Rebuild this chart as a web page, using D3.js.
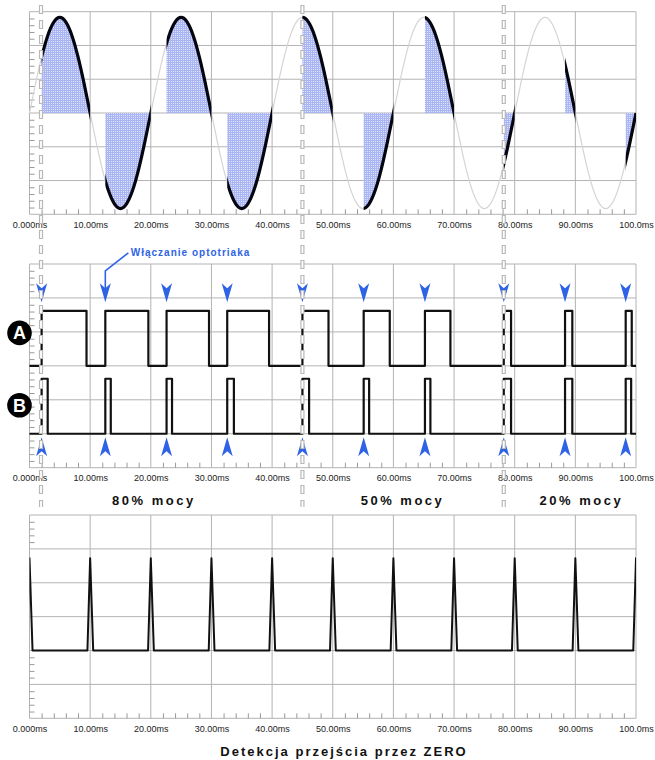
<!DOCTYPE html>
<html>
<head>
	<meta charset="utf-8">
	<title>Sterowanie fazowe triaka</title>
	<script type="text/javascript" src="https://cdnjs.cloudflare.com/ajax/libs/d3/7.8.5/d3.min.js"></script>
	<style>
		body { margin: 0; background: #fff; }
		text { font-family: "Liberation Sans", Arial, sans-serif; }
	</style>
</head>
<body>
	<svg id="chart" width="655" height="760"></svg>
	<script type="text/javascript">
		// data (time in ms, levels in grid units)
		var xTicks = [0, 10, 20, 30, 40, 50, 60, 70, 80, 90, 100];
		var xTickLabels = ["0.000ms", "10.00ms", "20.00ms", "30.00ms", "40.00ms", "50.00ms",
			"60.00ms", "70.00ms", "80.00ms", "90.00ms", "100.0ms"];

		// one half period of the mains voltage, sampled every 1 ms
		var halfWave = [0, 0.87, 1.66, 2.29, 2.69, 2.83, 2.69, 2.29, 1.66, 0.87, 0];

		// triac firing moments (ms)
		var triggers = [2.0, 12.5, 22.6, 32.6, 45.0, 55.1, 65.2, 78.2, 88.3, 98.3];
		// end of signal A pulses
		var aOff = [9.4, 19.6, 29.6, 39.5, 49.3, 59.4, 69.4, 79.4, 89.5, 99.3];
		// end of signal B pulses
		var bOff = [3.0, 13.4, 23.5, 33.7, 46.1, 56.0, 66.1, 79.4, 89.5, 99.2];
		var aLevels = [3, 4.62];
		var bLevels = [1, 2.62];

		// zero crossing detector
		var zeroCrossings = [0, 10, 20, 30, 40, 50, 60, 70, 80, 90, 100];
		var spikeLevels = [2, 4.72];

		// power change moments (dashed lines) and section captions
		var markerTimes = [1.9, 45.0, 78.2];
		var powerLabels = ["80% mocy", "50% mocy", "20% mocy"];
		var powerLabelTimes = [20.5, 61.5, 91];

		var svg = d3.select("#chart");
		var blue = "#2f63e6";
		var gridColor = "#b3b3b3";

		var x = d3.scaleLinear().domain([0, 100]).range([29.5, 636]);

		var panels = [
			{ y: d3.scaleLinear().domain([-3, 3]).range([214.3, 11.7]), noTicks: null },
			{ y: d3.scaleLinear().domain([0, 6]).range([467.7, 264]), noTicks: null },
			{ y: d3.scaleLinear().domain([0, 6]).range([718.3, 515]), noTicks: [2, 5] }
		];

		svg.append("rect").attr("width", 655).attr("height", 760).attr("fill", "#fff");

		// hatch pattern used under the conducting parts
		var defs = svg.append("defs");
		var pat = defs.append("pattern").attr("id", "hatch")
			.attr("width", 2).attr("height", 2).attr("patternUnits", "userSpaceOnUse");
		pat.append("rect").attr("width", 2).attr("height", 2).attr("fill", "#dde2fc");
		pat.append("rect").attr("width", 2).attr("height", 1).attr("fill", "#aab6f3");
		pat.append("rect").attr("width", 1).attr("height", 2).attr("fill", "#aab6f3");

		// grids, minor ticks and tick labels
		panels.forEach(function (p, i) {
			var g = svg.append("g");
			var yd = p.y.domain();
			var yTicks = d3.range(yd[0], yd[1] + 0.001, 1);

			g.selectAll(".vg").data(xTicks).enter().append("line")
				.attr("x1", function (d) { return x(d); })
				.attr("x2", function (d) { return x(d); })
				.attr("y1", p.y(yd[0])).attr("y2", p.y(yd[1]))
				.attr("stroke", gridColor).attr("stroke-width", 1);
			g.selectAll(".hg").data(yTicks).enter().append("line")
				.attr("x1", x(0)).attr("x2", x(100))
				.attr("y1", function (d) { return p.y(d); })
				.attr("y2", function (d) { return p.y(d); })
				.attr("stroke", gridColor).attr("stroke-width", 1);

			// minor ticks along the bottom
			var minorX = d3.range(0, 100, 2).filter(function (d) { return d % 10 != 0; });
			g.append("g")
				.attr("transform", "translate(0," + p.y(yd[0]) + ")")
				.call(d3.axisBottom(x).tickValues(minorX).tickSize(-5).tickFormat(""))
				.call(function (a) {
					a.select(".domain").remove();
					a.selectAll("line").attr("stroke", "#999");
				});

			// minor ticks along the left side
			var minorY = d3.range(yd[0], yd[1], 0.2).filter(function (d) {
				var frac = Math.abs(d - Math.round(d));
				if (frac < 0.01) return false;
				if (p.noTicks && d > p.noTicks[0] && d < p.noTicks[1]) return false;
				return true;
			});
			g.append("g")
				.attr("transform", "translate(" + x(0) + ",0)")
				.call(d3.axisLeft(p.y).tickValues(minorY).tickSize(-5).tickFormat(""))
				.call(function (a) {
					a.select(".domain").remove();
					a.selectAll("line").attr("stroke", "#999");
				});

			// time labels
			g.append("g")
				.attr("transform", "translate(0," + p.y(yd[0]) + ")")
				.call(d3.axisBottom(x).tickValues(xTicks).tickSize(0).tickPadding(7)
					.tickFormat(function (d, k) { return xTickLabels[k]; }))
				.call(function (a) {
					a.select(".domain").remove();
					a.selectAll("text").attr("font-size", 9).attr("fill", "#222")
						.attr("font-family", "'Liberation Sans', Arial, sans-serif");
				});
		});

		// ---- panel 1 : mains voltage and conducting parts
		var p1 = panels[0];
		var sinePts = [];
		for (var k = 0; k < 10; k++) {
			var sign = (k % 2 == 0) ? 1 : -1;
			for (var i = 0; i < halfWave.length - 1; i++) {
				sinePts.push([k * 10 + i, sign * halfWave[i]]);
			}
		}
		sinePts.push([100, 0]);

		var conduct = defs.append("clipPath").attr("id", "conduct");
		triggers.forEach(function (t) {
			var end = Math.ceil(t / 10) * 10;
			conduct.append("rect")
				.attr("x", x(t)).attr("width", x(end) - x(t))
				.attr("y", 0).attr("height", 235);
		});

		var sineLine = d3.line()
			.x(function (d) { return x(d[0]); })
			.y(function (d) { return p1.y(d[1]); })
			.curve(d3.curveNatural);
		var sineArea = d3.area()
			.x(function (d) { return x(d[0]); })
			.y0(p1.y(0))
			.y1(function (d) { return p1.y(d[1]); })
			.curve(d3.curveNatural);

		svg.append("path").datum(sinePts)
			.attr("d", sineArea)
			.attr("fill", "url(#hatch)")
			.attr("clip-path", "url(#conduct)");
		svg.append("path").datum(sinePts)
			.attr("d", sineLine)
			.attr("fill", "none")
			.attr("stroke", "#d4d4d4")
			.attr("stroke-width", 1.2);
		svg.append("path").datum(sinePts)
			.attr("d", sineLine)
			.attr("fill", "none")
			.attr("stroke", "#05050f")
			.attr("stroke-width", 3.2)
			.attr("clip-path", "url(#conduct)");

		// ---- panel 2 : control signals A and B
		var p2 = panels[1];
		function pulses(offs, levels) {
			var pts = [[0, levels[0]]];
			triggers.forEach(function (t, j) {
				pts.push([t, levels[1]]);
				pts.push([offs[j], levels[0]]);
			});
			pts.push([100, levels[0]]);
			return pts;
		}
		var stepLine = d3.line()
			.x(function (d) { return x(d[0]); })
			.y(function (d) { return p2.y(d[1]); })
			.curve(d3.curveStepAfter);

		[pulses(aOff, aLevels), pulses(bOff, bLevels)].forEach(function (pts) {
			svg.append("path").datum(pts)
				.attr("d", stepLine)
				.attr("fill", "none")
				.attr("stroke", "#111")
				.attr("stroke-width", 2.2)
				.attr("stroke-linejoin", "round");
		});

		// firing arrows
		var arrowDown = "M0,0 L-5.5,-19 L0,-14 L5.5,-19 Z";
		var arrowUp = "M0,0 L-5.5,19 L0,14 L5.5,19 Z";
		svg.selectAll(".adown").data(triggers).enter().append("path")
			.attr("d", arrowDown)
			.attr("transform", function (d) { return "translate(" + x(d) + "," + p2.y(4.87) + ")"; })
			.attr("fill", blue);
		svg.selectAll(".aup").data(triggers).enter().append("path")
			.attr("d", arrowUp)
			.attr("transform", function (d) { return "translate(" + x(d) + "," + p2.y(0.9) + ")"; })
			.attr("fill", blue);

		// annotation
		var noteT = triggers[1];
		svg.append("path")
			.attr("d", "M" + x(16.3) + "," + p2.y(6.33) +
				" L" + x(noteT) + "," + p2.y(5.8) +
				" L" + x(noteT) + "," + p2.y(5.2))
			.attr("fill", "none")
			.attr("stroke", blue)
			.attr("stroke-width", 1.6);
		svg.append("text")
			.attr("x", x(16.7)).attr("y", p2.y(6.33) + 3.5)
			.attr("font-size", 10).attr("font-weight", "bold")
			.attr("letter-spacing", 1)
			.attr("fill", blue)
			.text("Włączanie optotriaka");

		// A / B badges
		[["A", 3.97], ["B", 1.84]].forEach(function (b) {
			svg.append("circle")
				.attr("cx", 19.5).attr("cy", p2.y(b[1])).attr("r", 12.3)
				.attr("fill", "#000");
			svg.append("text")
				.attr("x", 19.5).attr("y", p2.y(b[1]) + 6.5)
				.attr("text-anchor", "middle")
				.attr("font-size", 18).attr("font-weight", "bold")
				.attr("fill", "#fff")
				.text(b[0]);
		});

		// power captions
		svg.selectAll(".pl").data(powerLabels).enter().append("text")
			.attr("x", function (d, j) { return x(powerLabelTimes[j]); })
			.attr("y", 505)
			.attr("text-anchor", "middle")
			.attr("font-size", 13).attr("font-weight", "bold")
			.attr("letter-spacing", 2.5)
			.attr("fill", "#111")
			.text(function (d) { return d; });

		// ---- panel 3 : zero crossing detection
		var p3 = panels[2];
		defs.append("clipPath").attr("id", "plot3").append("rect")
			.attr("x", x(0)).attr("width", x(100) - x(0))
			.attr("y", p3.y(6)).attr("height", p3.y(0) - p3.y(6));
		var spikePts = [];
		zeroCrossings.forEach(function (z) {
			spikePts.push([z - 0.45, spikeLevels[0]]);
			spikePts.push([z, spikeLevels[1]]);
			spikePts.push([z + 0.5, spikeLevels[0]]);
		});
		svg.append("path").datum(spikePts)
			.attr("d", d3.line()
				.x(function (d) { return x(d[0]); })
				.y(function (d) { return p3.y(d[1]); }))
			.attr("fill", "none")
			.attr("stroke", "#111")
			.attr("stroke-width", 2)
			.attr("stroke-linejoin", "round")
			.attr("clip-path", "url(#plot3)");

		svg.append("text")
			.attr("x", 344).attr("y", 756)
			.attr("text-anchor", "middle")
			.attr("font-size", 13).attr("font-weight", "bold")
			.attr("letter-spacing", 2)
			.attr("fill", "#111")
			.text("Detekcja przejścia przez ZERO");

		// dashed markers where the power changes (hollow dashes)
		markerTimes.forEach(function (t) {
			svg.append("line")
				.attr("x1", x(t)).attr("x2", x(t)).attr("y1", 5).attr("y2", 507)
				.attr("stroke", "#b8b8b8").attr("stroke-width", 4.2)
				.attr("stroke-dasharray", "9,6");
			svg.append("line")
				.attr("x1", x(t)).attr("x2", x(t)).attr("y1", 5).attr("y2", 507)
				.attr("stroke", "#fff").attr("stroke-width", 1.8)
				.attr("stroke-dasharray", "7,8")
				.attr("stroke-dashoffset", -1);
		});
	</script>
</body>
</html>
